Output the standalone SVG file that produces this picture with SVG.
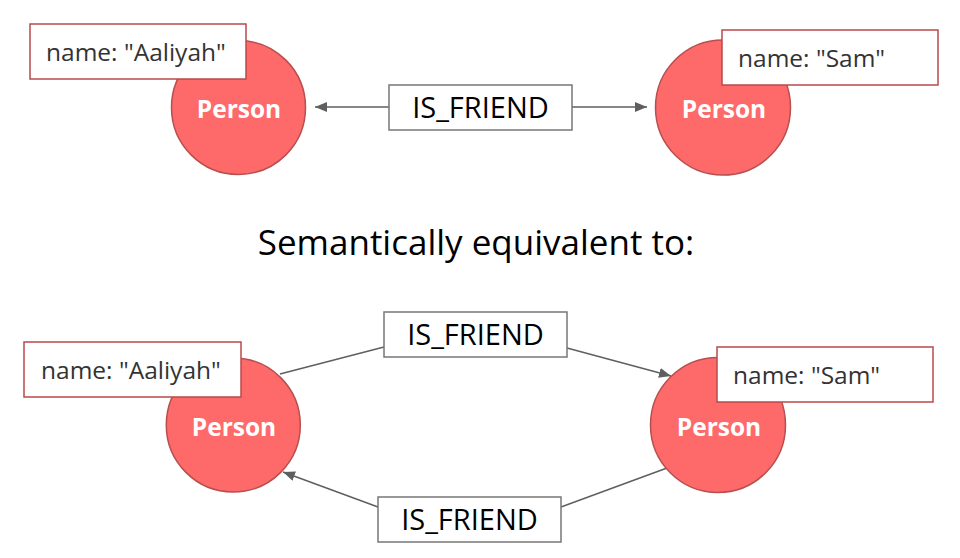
<svg xmlns="http://www.w3.org/2000/svg" width="960" height="558" viewBox="0 0 960 558">
<defs>
<marker id="arr" viewBox="0 0 12 10" refX="12" refY="5" markerWidth="12" markerHeight="10" markerUnits="userSpaceOnUse" orient="auto">
<path d="M0,0 L12,5 L0,10 z" fill="#5f5f5f"/>
</marker>
<style>
.node{fill:#fe6a6a;stroke:#b84e4e;stroke-width:1.5}
.nt{font-family:"Open Sans","Liberation Sans",sans-serif;font-weight:bold;font-size:24.5px;fill:#ffffff;text-anchor:middle}
.prop{fill:#ffffff;stroke:#bb4a4a;stroke-width:1.5}
.pt{font-family:"Open Sans","Liberation Sans",sans-serif;font-size:24.5px;fill:#333333}
.rel{fill:#ffffff;stroke:#777777;stroke-width:1.5}
.rt{font-family:"Open Sans","Liberation Sans",sans-serif;font-size:29px;fill:#000000;text-anchor:middle}
.edge{stroke:#5f5f5f;stroke-width:1.5;fill:none}
.title{font-family:"Open Sans","Liberation Sans",sans-serif;font-size:35px;fill:#000000;text-anchor:middle}
</style>
</defs>
<rect width="960" height="558" fill="#ffffff"/>
<g id="connectors">
<line class="edge" x1="389" y1="107" x2="315" y2="107" marker-end="url(#arr)"/>
<line class="edge" x1="572" y1="107" x2="647" y2="107" marker-end="url(#arr)"/>
<line class="edge" x1="280" y1="374" x2="384" y2="347"/>
<line class="edge" x1="567" y1="348" x2="671" y2="376" marker-end="url(#arr)"/>
<line class="edge" x1="667" y1="468" x2="561" y2="507"/>
<line class="edge" x1="378" y1="507" x2="283" y2="472" marker-end="url(#arr)"/>
</g>
<g id="rel-top">
<rect class="rel" x="389" y="85" width="183" height="45"/>
<text class="rt" x="480.5" y="117.5">IS_FRIEND</text>
</g>
<g id="rel-bottom-upper">
<rect class="rel" x="384" y="312" width="183" height="45"/>
<text class="rt" x="475.5" y="344.5">IS_FRIEND</text>
</g>
<g id="rel-bottom-lower">
<rect class="rel" x="378" y="497" width="183" height="45"/>
<text class="rt" x="469.5" y="529.5">IS_FRIEND</text>
</g>
<g id="node-aaliyah-top">
<circle class="node" cx="238.5" cy="107.5" r="67"/>
<text class="nt" x="239" y="118">Person</text>
<rect class="prop" x="30" y="24" width="216" height="55"/>
<text class="pt" x="46" y="61">name: "Aaliyah"</text>
</g>
<g id="node-sam-top">
<circle class="node" cx="723" cy="107.5" r="67.5"/>
<text class="nt" x="724" y="118">Person</text>
<rect class="prop" x="722" y="30" width="216" height="55"/>
<text class="pt" x="738" y="67">name: "Sam"</text>
</g>
<g id="title">
<text class="title" x="476" y="255">Semantically equivalent to:</text>
</g>
<g id="node-aaliyah-bottom">
<circle class="node" cx="233.3" cy="425" r="67"/>
<text class="nt" x="234" y="436">Person</text>
<rect class="prop" x="24" y="342" width="217" height="55"/>
<text class="pt" x="41" y="379">name: "Aaliyah"</text>
</g>
<g id="node-sam-bottom">
<circle class="node" cx="718" cy="425" r="67.5"/>
<text class="nt" x="719" y="436">Person</text>
<rect class="prop" x="717" y="347" width="216" height="55"/>
<text class="pt" x="733" y="384">name: "Sam"</text>
</g>
</svg>
